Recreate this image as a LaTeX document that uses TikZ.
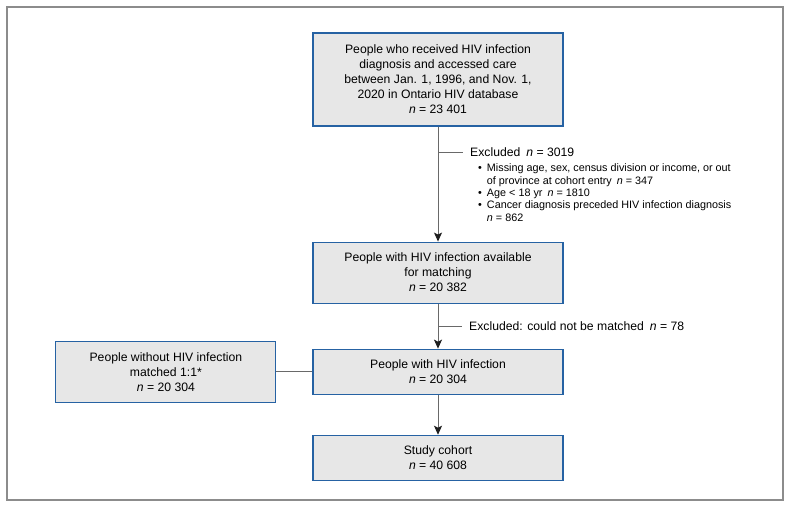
\documentclass[tikz,border=0pt]{standalone}
\usepackage{fontspec}
\setmainfont{Liberation Sans}
\usetikzlibrary{arrows.meta,positioning}
\usepackage{xcolor}
\definecolor{boxgray}{RGB}{231,231,231}
\definecolor{boxblue}{RGB}{38,98,163}
\definecolor{linegray}{RGB}{105,105,105}
\definecolor{framegray}{RGB}{140,140,140}
\definecolor{tipblack}{RGB}{30,30,30}

\begin{document}
\begin{tikzpicture}[
  box/.style={rectangle, draw=boxblue, fill=boxgray, line width=1.1pt, align=center, minimum width=250pt, font=\fontsize{12.2}{15}\selectfont, inner sep=2pt},
  note/.style={font=\fontsize{12.2}{15}\selectfont, inner xsep=7pt, inner ysep=2pt, anchor=west},
  sub/.style={font=\fontsize{10.8}{12.4}\selectfont, align=left, inner sep=0pt},
  conn/.style={draw=linegray, line width=1pt},
  arr/.style={conn, -{Stealth[length=9pt, width=8pt, inset=2pt, color=tipblack]}}
]
\useasboundingbox (0,0) rectangle (791pt,-508pt);
\draw[framegray, line width=1.4pt] (7pt,-7pt) rectangle (783pt,-500pt);

\node[box, minimum height=93pt] (src) at (438pt,-79.5pt) {People who received HIV infection\\ diagnosis and accessed care\\ between Jan. 1, 1996, and Nov. 1,\\ 2020 in Ontario HIV database\\ \textit{n} = 23 401};
\node[box, minimum height=61pt, below=115pt of src] (avail) {People with HIV infection available\\ for matching\\ \textit{n} = 20 382};
\node[box, minimum height=45pt, below=45pt of avail] (hiv) {People with HIV infection\\ \textit{n} = 20 304};
\node[box, minimum height=45pt, below=40pt of hiv] (cohort) {Study cohort\\ \textit{n} = 40 608};
\node[box, minimum width=220pt, minimum height=61pt, left=36pt of hiv] (nohiv) {People without HIV infection\\ matched 1:1*\\ \textit{n} = 20 304};

% exclusions
\node[note] (excl) at (463pt,-152pt) {Excluded\hspace{6pt}\textit{n} = 3019};
\node[sub, below right=5pt and 15pt of excl.south west] (reasons) {%
  \textbullet\hspace{5pt}Missing age, sex, census division or income, or out\\
  \phantom{\textbullet}\hspace{5pt}of province at cohort entry\hspace{5pt}\textit{n} = 347\\
  \textbullet\hspace{5pt}Age < 18 yr\hspace{5pt}\textit{n} = 1810\\
  \textbullet\hspace{5pt}Cancer diagnosis preceded HIV infection diagnosis\\
  \phantom{\textbullet}\hspace{5pt}\textit{n} = 862};
\node[note] (nomatch) at (462pt,-326.5pt) {Excluded: could not be matched\hspace{6pt}\textit{n} = 78};

\draw[arr] (src) -- (avail);
\draw[arr] (avail) -- (hiv);
\draw[arr] (hiv) -- (cohort);
\draw[conn] (src.south |- excl.west) -- (excl.west);
\draw[conn] (avail.south |- nomatch.west) -- (nomatch.west);
\draw[conn] (nohiv) -- (hiv);
\end{tikzpicture}
\end{document}
